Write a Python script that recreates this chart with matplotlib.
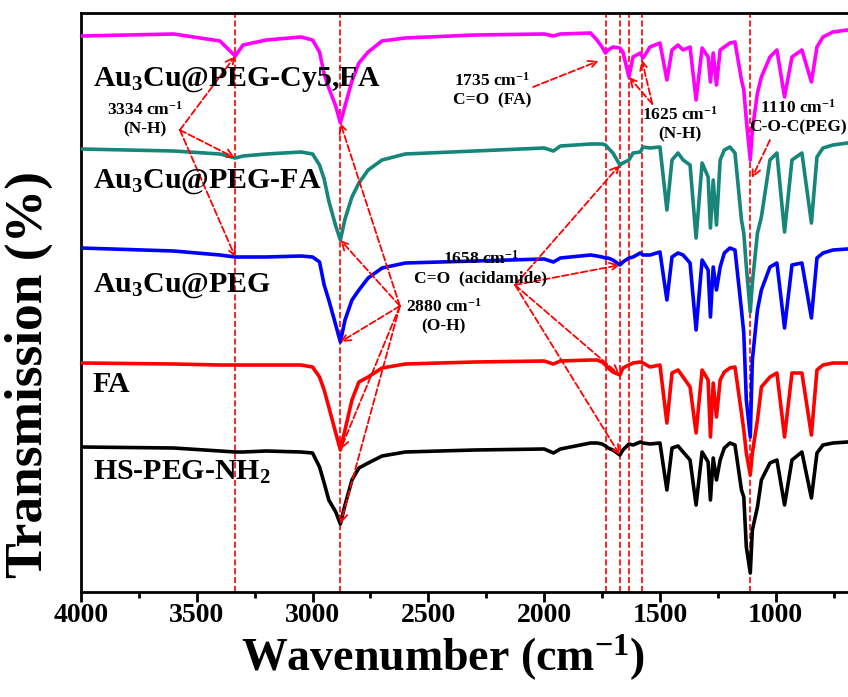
import numpy as np
import matplotlib
matplotlib.use("Agg")
import matplotlib.pyplot as plt

matplotlib.rcParams.update({
    "font.family": "Liberation Serif", "font.weight": "bold",
    "axes.labelweight": "bold",
    "mathtext.fontset": "custom",
    "mathtext.rm": "Liberation Serif:bold",
    "mathtext.it": "Liberation Serif:bold",
    "mathtext.bf": "Liberation Serif:bold",
    "mathtext.default": "rm",
})

# ── data (transmission, arbitrary units with stacking offsets) ──
WAVENUMBER = [4000, 3600, 3400, 3334, 3300, 3200, 3050, 3000, 2970, 2950,
              2930, 2900, 2880, 2860, 2830, 2800, 2760, 2700, 2600, 2300,
              2000, 1960, 1930, 1800, 1772, 1750, 1735, 1724, 1703, 1673,
              1660, 1634, 1616, 1585, 1573, 1543, 1500, 1470, 1448, 1422,
              1400, 1370, 1344, 1318, 1292, 1282, 1270, 1256, 1240, 1222,
              1198, 1176, 1148, 1138, 1127, 1110, 1101, 1079, 1062, 1025,
              995, 962, 930, 887, 846, 822, 796, 753, 690]

CY5_FA = [564, 566, 559, 544, 555, 560, 563, 560, 548, 526,
          512, 494, 477, 494, 519, 537, 548, 559, 562, 565,
          566, 564, 566, 567, 560, 553, 547, 550, 553, 552,
          548, 523, 543, 547, 542, 553, 557, 520, 550, 555,
          550, 553, 500, 552, 543, 518, 547, 515, 550, 553,
          557, 558, 520, 510, 480, 440, 470, 507, 523, 543,
          550, 503, 543, 550, 518, 553, 563, 568, 570]

PEG_FA = [451, 449, 446, 442, 444, 446, 448, 446, 435, 421,
          399, 374, 360, 381, 403, 417, 430, 440, 446, 449,
          452, 449, 454, 456, 456, 456, 455, 452, 447, 435,
          437, 440, 447, 448, 453, 452, 453, 390, 440, 447,
          440, 435, 362, 437, 423, 372, 420, 375, 440, 450,
          453, 447, 380, 367, 333, 288, 317, 367, 383, 440,
          447, 368, 440, 447, 377, 443, 452, 455, 457]

PEG = [352, 349, 345, 343, 343, 343, 344, 343, 338, 315,
       300, 275, 258, 280, 300, 310, 322, 332, 337, 339,
       341, 338, 342, 345, 344, 343, 342, 342, 340, 335,
       338, 342, 343, 347, 345, 345, 348, 300, 343, 347,
       345, 337, 270, 340, 330, 283, 333, 310, 333, 347,
       352, 350, 290, 267, 200, 163, 240, 290, 310, 333,
       337, 272, 335, 337, 282, 342, 347, 350, 351]

FA = [237, 236, 235, 235, 235, 235, 235, 233, 223, 210,
      193, 167, 150, 170, 200, 218, 223, 232, 236, 238,
      239, 236, 239, 240, 240, 238, 235, 232, 228, 225,
      232, 235, 237, 238, 237, 233, 235, 177, 227, 230,
      223, 213, 167, 230, 220, 163, 217, 183, 220, 228,
      232, 233, 187, 170, 147, 125, 147, 180, 213, 223,
      227, 163, 227, 227, 165, 230, 235, 237, 237]

HS_PEG_NH2 = [153, 152, 149, 148, 148, 149, 148, 147, 133, 117,
              100, 88, 76, 95, 120, 132, 137, 144, 148, 150,
              151, 147, 151, 157, 157, 156, 154, 152, 150, 145,
              150, 156, 155, 158, 157, 156, 157, 110, 152, 154,
              148, 140, 95, 148, 138, 100, 142, 120, 140, 152,
              157, 155, 110, 103, 53, 27, 70, 93, 120, 137,
              140, 95, 140, 148, 102, 147, 155, 157, 158]

SERIES = [CY5_FA, PEG_FA, PEG, FA, HS_PEG_NH2]
LABELS = ["Au$_3$Cu@PEG-Cy5,FA", "Au$_3$Cu@PEG-FA", "Au$_3$Cu@PEG", "FA", "HS-PEG-NH$_2$"]
COLORS = ["#FF00FF", "#16857A", "#0000FF", "#FF0000", "#000000"]
PEAK_LINES = [3334, 2880, 1735, 1673, 1634, 1578, 1110]


def at(series, wn):
    return float(np.interp(wn, WAVENUMBER[::-1], series[::-1]))


def note(ax, text, pos, origin, targets):
    ax.text(pos[0], pos[1], text, ha="center", va="center", fontsize=12.5,
            linespacing=1.25, zorder=5)
    for t in targets:
        ax.annotate("", xy=t, xytext=origin,
                    arrowprops=dict(arrowstyle="->", color="red", lw=1.3, ls="--",
                                    shrinkA=0, shrinkB=0, mutation_scale=15),
                    zorder=4)


fig = plt.figure(figsize=(8.48, 6.97), dpi=100)
ax = fig.add_axes([81 / 848, 1 - 592 / 697, 1 - 81 / 848, (592 - 13) / 697])

for s, c in zip(SERIES, COLORS):
    ax.plot(WAVENUMBER, s, color=c, lw=2.6, solid_joinstyle="round", zorder=3)

for wn in PEAK_LINES:
    ax.axvline(wn, color="red", ls="--", lw=1.2, zorder=2)

# sample labels
label_y = [514, 412, 308, 208, 120]
for lab, y in zip(LABELS, label_y):
    ax.text(3950, y, lab, fontsize=21.5, ha="left", va="baseline", zorder=5)

# peak annotations
note(ax, "3334 cm$^{-1}$\n(N-H)", (3724, 481), (3573, 470),
     [(3334, at(CY5_FA, 3334)), (3334, at(PEG_FA, 3334)), (3334, at(PEG, 3334))])
note(ax, "2880 cm$^{-1}$\n(O-H)", (2433, 284), (2623, 294),
     [(2880, at(s, 2880)) for s in SERIES])
note(ax, "1735 cm$^{-1}$\nC=O  (FA)", (2225, 510), (2048, 513),
     [(1765, at(CY5_FA, 1735) - 8)])
note(ax, "1658 cm$^{-1}$\nC=O  (acidamide)", (2273, 332), (2126, 315),
     [(1673, at(s, 1673)) for s in SERIES[1:]])
note(ax, "1625 cm$^{-1}$\n(N-H)", (1414, 476), (1533, 496),
     [(1634, at(CY5_FA, 1634)), (1578, at(CY5_FA, 1578) - 4)])
note(ax, "1110 cm$^{-1}$\nC-O-C(PEG)", (904, 483), (1025, 460),
     [(1103, at(PEG_FA, 1079) + 55)])

ax.set_xlim(4000, 688)
ax.set_ylim(8, 587)
ax.set_yticks([])
ax.set_xticks(np.arange(1000, 4001, 500))
ax.set_xticks(np.arange(750, 4001, 250), minor=True)
ax.tick_params(axis="x", which="major", direction="out", length=7, width=2, labelsize=20, pad=1)
ax.tick_params(axis="x", which="minor", direction="out", length=4, width=2)
for side in ["left", "bottom", "top"]:
    ax.spines[side].set_linewidth(2)
ax.spines["right"].set_visible(False)

ax.set_xlabel("Wavenumber (cm$^{-1}$)", fontsize=33)
ax.set_ylabel("Transmission (%)", fontsize=38.5)
ax.xaxis.set_label_coords(0.472, -0.07, transform=ax.transAxes)
ax.yaxis.set_label_coords(-0.068, 0.375, transform=ax.transAxes)
ax.xaxis.label.set_va("top")
ax.yaxis.label.set_va("center")

fig.savefig("out.png", dpi=100)
